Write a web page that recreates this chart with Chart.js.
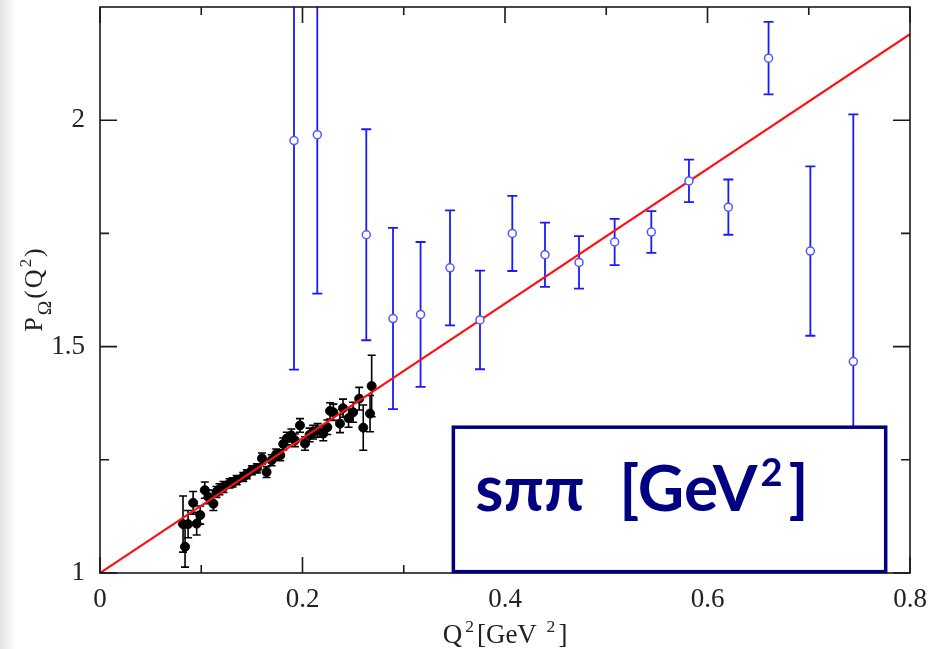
<!DOCTYPE html>
<html>
<head>
<meta charset="utf-8">
<title>P_Omega(Q^2)</title>
<script src="https://cdn.jsdelivr.net/npm/chart.js@4.4.0/dist/chart.umd.min.js"></script>
<style>
  html, body { margin: 0; padding: 0; background: #fff; }
  #wrap {
    position: relative; width: 930px; height: 649px;
    background: linear-gradient(to right, #e2e2e2 0px, #efefef 7px, #fff 15px);
  }
</style>
</head>
<body>
<div id="wrap"><canvas id="chart" width="930" height="649"></canvas></div>
<script>
'use strict';

/* DATA */

// black points (lattice-like, small errors)
const blackQ2 = [0.082, 0.084, 0.087, 0.092, 0.0955, 0.099, 0.1035, 0.107, 0.112, 0.115,
  0.118, 0.122, 0.128, 0.131, 0.135, 0.1415, 0.145, 0.150, 0.155, 0.160,
  0.1645, 0.1695, 0.174, 0.178, 0.181, 0.1845, 0.189, 0.1925, 0.1975, 0.2025,
  0.207, 0.2105, 0.215, 0.2205, 0.2245, 0.2272, 0.2305, 0.237, 0.240, 0.2455,
  0.250, 0.256, 0.260, 0.2667, 0.2683];
const blackP = [1.108, 1.058, 1.108, 1.155, 1.109, 1.128, 1.183, 1.168, 1.153, 1.179,
  1.185, 1.190, 1.198, 1.200, 1.205, 1.212, 1.218, 1.227, 1.231, 1.253,
  1.223, 1.249, 1.262, 1.260, 1.285, 1.297, 1.304, 1.293, 1.326, 1.286,
  1.305, 1.311, 1.315, 1.308, 1.322, 1.358, 1.355, 1.330, 1.364, 1.342,
  1.355, 1.385, 1.321, 1.352, 1.413];
const blackErr = [0.062, 0.045, 0.03, 0.025, 0.025, 0.02, 0.018, 0.015, 0.015, 0.012,
  0.012, 0.012, 0.01, 0.01, 0.01, 0.01, 0.01, 0.01, 0.01, 0.012,
  0.012, 0.012, 0.012, 0.012, 0.013, 0.014, 0.014, 0.014, 0.015, 0.015,
  0.015, 0.015, 0.015, 0.016, 0.016, 0.018, 0.018, 0.02, 0.02, 0.02,
  0.022, 0.025, 0.05, 0.04, 0.068];

// blue open circles
const blueQ2 = [0.1916, 0.2146, 0.263, 0.2894, 0.3166, 0.3457, 0.3753, 0.4072, 0.4395,
  0.4731, 0.5083, 0.5445, 0.5817, 0.6206, 0.6603, 0.7016, 0.744];
const blueP = [1.955, 1.968, 1.747, 1.562, 1.571, 1.674, 1.559, 1.750, 1.703,
  1.686, 1.731, 1.753, 1.866, 1.808, 2.137, 1.711, 1.467];
const blueErr = [0.506, 0.351, 0.233, 0.200, 0.160, 0.127, 0.109, 0.083, 0.071,
  0.058, 0.051, 0.046, 0.047, 0.061, 0.080, 0.187, 0.546];

// red straight line
const fitQ2 = [0, 0.8];
const fitP = [1, 2.19];

const xTicks = [0, 0.2, 0.4, 0.6, 0.8];
const xMinor = [0.1, 0.3, 0.5, 0.7];
const yTicks = [1, 1.5, 2];
const yMinor = [1.25, 1.75];

const boxLabel = ['s\u03C0\u03C0', '[GeV', '2', ']'];

/* HELPERS */

function pts(xs, ys) {
  return xs.map(function(x, i) { return { x: x, y: ys[i] }; });
}

function fmt(v) {
  return String(Number(v.toFixed(2)));
}

// draws text pieces with super/subscripts, centred on (0,0) of current transform
function richText(ctx, parts, size, family, gap) {
  function sz(p) { return p.sup ? size * 0.65 : (p.sub ? size * 0.75 : size); }
  let widths = parts.map(function(p) {
    ctx.font = sz(p) + 'px ' + family;
    return ctx.measureText(p.t).width;
  });
  let total = widths.reduce(function(a, b) { return a + b; }, 0) + gap * (parts.length - 1);
  let x = -total / 2;
  parts.forEach(function(p, i) {
    ctx.font = sz(p) + 'px ' + family;
    let dy = p.sup ? -size * 0.42 : (p.sub ? size * 0.36 : 0);
    ctx.fillText(p.t, x, dy);
    x += widths[i] + gap;
  });
}

/* PLUGINS */

const errorBars = {
  id: 'errorBars',
  beforeDatasetsDraw: function(chart) {
    const ctx = chart.ctx, xs = chart.scales.x, ys = chart.scales.y, a = chart.chartArea;
    ctx.save();
    ctx.beginPath();
    ctx.rect(a.left, a.top, a.right - a.left, a.bottom - a.top);
    ctx.clip();
    function bars(qs, ps, es, color, lw, cap) {
      ctx.strokeStyle = color;
      ctx.lineWidth = lw;
      qs.forEach(function(q, i) {
        const px = xs.getPixelForValue(q);
        const top = ys.getPixelForValue(ps[i] + es[i]);
        const bot = ys.getPixelForValue(ps[i] - es[i]);
        ctx.beginPath();
        ctx.moveTo(px, top); ctx.lineTo(px, bot);
        ctx.moveTo(px - cap, top); ctx.lineTo(px + cap, top);
        ctx.moveTo(px - cap, bot); ctx.lineTo(px + cap, bot);
        ctx.stroke();
      });
    }
    bars(blackQ2, blackP, blackErr, '#000', 1.6, 4);
    bars(blueQ2, blueP, blueErr, '#1a1aff', 1.8, 5);
    ctx.restore();
  }
};

const frame = {
  id: 'frame',
  afterDatasetsDraw: function(chart) {
    const ctx = chart.ctx, xs = chart.scales.x, ys = chart.scales.y, a = chart.chartArea;
    ctx.save();
    ctx.strokeStyle = '#1a1a1a';
    ctx.lineWidth = 1.6;
    ctx.strokeRect(a.left, a.top, a.right - a.left, a.bottom - a.top);
    ctx.beginPath();
    xTicks.concat(xMinor).forEach(function(v) {
      const len = xTicks.indexOf(v) >= 0 ? 16 : 8;
      const px = xs.getPixelForValue(v);
      ctx.moveTo(px, a.bottom); ctx.lineTo(px, a.bottom - len);
      ctx.moveTo(px, a.top); ctx.lineTo(px, a.top + len);
    });
    yTicks.concat(yMinor).forEach(function(v) {
      const len = yTicks.indexOf(v) >= 0 ? 17 : 9;
      const py = ys.getPixelForValue(v);
      ctx.moveTo(a.left, py); ctx.lineTo(a.left + len, py);
      ctx.moveTo(a.right, py); ctx.lineTo(a.right - len, py);
    });
    ctx.stroke();

    // axis titles
    ctx.fillStyle = '#222';
    ctx.textBaseline = 'alphabetic';
    ctx.save();
    ctx.translate((a.left + a.right) / 2, 643);
    richText(ctx, [{ t: 'Q' }, { t: '2', sup: true }, { t: '[GeV ' }, { t: '2', sup: true }, { t: ']' }],
      27, "'Liberation Serif', serif", 3);
    ctx.restore();
    ctx.save();
    ctx.translate(42, (a.top + a.bottom) / 2);
    ctx.rotate(-Math.PI / 2);
    richText(ctx, [{ t: 'P' }, { t: '\u03A9', sub: true }, { t: '(' }, { t: 'Q' }, { t: '2', sup: true }, { t: ')' }],
      26, "'Liberation Serif', serif", 2);
    ctx.restore();

    // boxed label
    const bx0 = xs.getPixelForValue(0.349), bx1 = xs.getPixelForValue(0.776);
    const by0 = ys.getPixelForValue(1.322), by1 = ys.getPixelForValue(1.003);
    ctx.fillStyle = '#fff';
    ctx.fillRect(bx0, by0, bx1 - bx0, by1 - by0);
    ctx.strokeStyle = '#000080';
    ctx.lineWidth = 3.5;
    ctx.strokeRect(bx0, by0, bx1 - bx0, by1 - by0);
    ctx.fillStyle = '#000080';
    const base = by0 + 84;
    ctx.font = "bold 64px Lato, 'DejaVu Sans', sans-serif";
    ctx.fillText(boxLabel[0], bx0 + 22, base);
    let gx = bx0 + 166;
    ctx.fillText(boxLabel[1], gx, base);
    gx += ctx.measureText(boxLabel[1]).width + 3;
    ctx.font = "bold 38px Lato, 'DejaVu Sans', sans-serif";
    ctx.fillText(boxLabel[2], gx, base - 25);
    gx += ctx.measureText(boxLabel[2]).width + 6;
    ctx.font = "bold 64px Lato, 'DejaVu Sans', sans-serif";
    ctx.fillText(boxLabel[3], gx, base);
    ctx.restore();
  }
};

/* CHART */

const tickFont = { family: "'Liberation Serif', serif", size: 27 };

const ctx = document.getElementById('chart').getContext('2d');
const chart = new Chart(ctx, {
  type: 'scatter',
  data: {
    datasets: [
      {
        label: 'open',
        data: pts(blueQ2, blueP),
        pointRadius: 4,
        pointBorderWidth: 1.5,
        backgroundColor: '#fff',
        borderColor: '#5555ff',
        order: 0
      },
      {
        type: 'line',
        label: 'fit',
        data: pts(fitQ2, fitP),
        borderColor: '#ff1010',
        borderWidth: 2.2,
        pointRadius: 0,
        fill: false,
        order: 1
      },
      {
        label: 'filled',
        data: pts(blackQ2, blackP),
        pointRadius: 4.5,
        backgroundColor: '#000',
        borderColor: '#000',
        order: 2
      }
    ]
  },
  options: {
    responsive: false,
    animation: false,
    events: [],
    layout: { padding: { top: 7, right: 20, left: 0, bottom: 0 } },
    plugins: {
      legend: { display: false },
      tooltip: { enabled: false }
    },
    scales: {
      x: {
        type: 'linear',
        min: 0,
        max: 0.8,
        grid: { display: false },
        border: { display: false },
        ticks: { font: tickFont, color: '#222', padding: 3, maxRotation: 0, callback: fmt },
        afterBuildTicks: function(s) { s.ticks = xTicks.map(function(v) { return { value: v }; }); },
        afterFit: function(s) { s.height = 76; s.paddingLeft = 0; s.paddingRight = 0; }
      },
      y: {
        type: 'linear',
        min: 1,
        max: 2.25,
        grid: { display: false },
        border: { display: false },
        ticks: { font: tickFont, color: '#222', padding: 7, callback: fmt },
        afterBuildTicks: function(s) { s.ticks = yTicks.map(function(v) { return { value: v }; }); },
        afterFit: function(s) { s.width = 100; s.paddingTop = 0; s.paddingBottom = 0; }
      }
    }
  },
  plugins: [errorBars, frame]
});
</script>
</body>
</html>
